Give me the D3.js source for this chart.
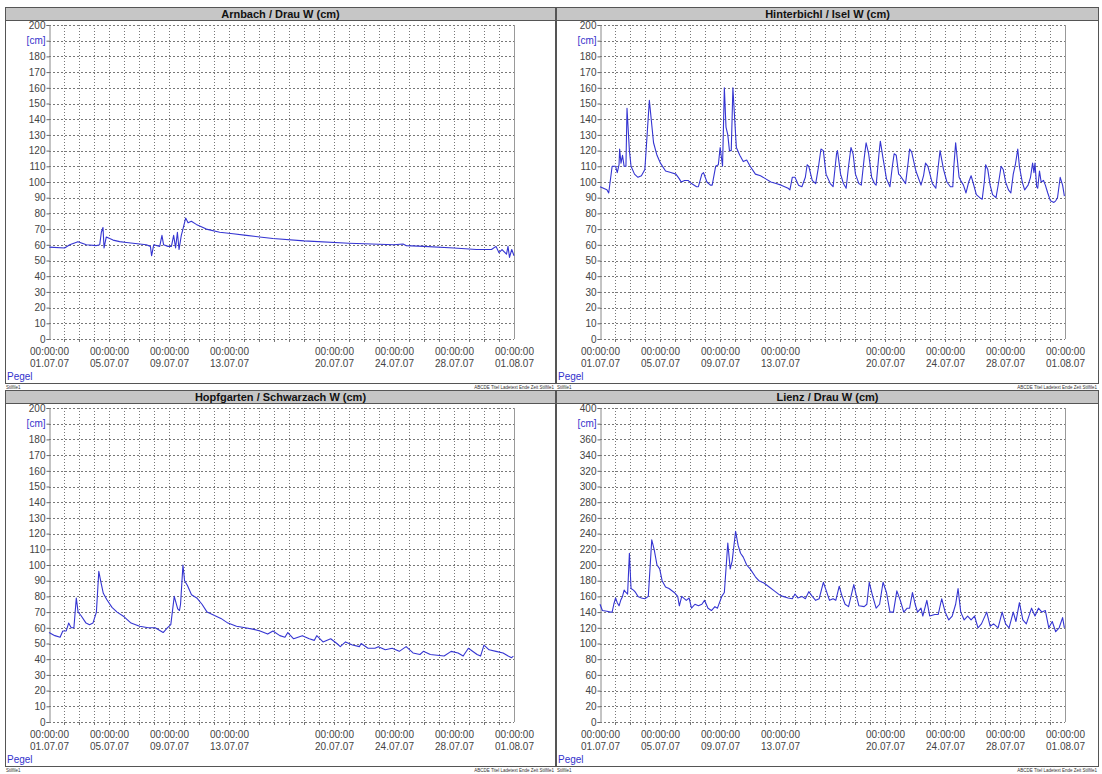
<!DOCTYPE html>
<html><head><meta charset="utf-8">
<script src="https://cdn.jsdelivr.net/npm/d3@7"></script>
<style>
body{margin:0;background:#fff;}
svg{display:block;font-family:"Liberation Sans",Arial,sans-serif;}
</style></head><body>
<svg id="c" width="1102" height="774"></svg>
<script>
// ---------- data (day offset from 01.07.07 00:00, water level in cm) ----------
const arnbachDays = [0.02,1.04,1.38,1.93,2.49,3.16,3.38,3.49,3.6,3.67,3.82,4.27,4.71,5.16,5.6,6.49,6.76,6.84,6.98,7.38,7.53,7.64,7.93,8.16,8.31,8.44,8.56,8.67,8.82,8.93,9.11,9.27,9.49,9.82,10.49,11.38,12.27,13.16,14.04,14.93,17,20,23,23.6,23.8,25,27,28.5,29.5,29.8,30.0,30.2,30.5,30.6,30.7,30.85,31];
const arnbachLevels = [58.5,58,60,62,60,59.5,60,68,71,58,65,63,62,61.5,61,60,59,53,60,59,66,60,59,59,66,58,68,57,66,70,77,74,75,73,70,68,67,66,65,64,62.5,61,60,60.5,59.5,59,58,57,57,59,55,57,54,59,52,57,53];

const hinterbichlDays = [0,0.46,0.58,0.81,1.04,1.15,1.27,1.31,1.40,1.50,1.61,1.73,1.80,1.96,2.07,2.30,2.53,2.76,2.99,3.29,3.57,3.80,4.03,4.37,4.72,5.06,5.29,5.41,5.64,5.87,6.10,6.44,6.56,6.79,6.90,7.13,7.36,7.48,7.71,7.89,8.01,8.17,8.29,8.40,8.52,8.63,8.75,8.86,8.98,9.09,9.32,9.55,9.78,10.01,10.36,10.70,11.05,11.39,11.74,12.08,12.31,12.54,12.66,12.82,13.00,13.23,13.46,13.69,13.81,13.92,14.15,14.38,14.57,14.73,14.89,15.07,15.35,15.54,15.77,15.83,16.04,16.23,16.41,16.57,16.73,16.87,17.03,17.26,17.42,17.61,17.74,17.91,18.11,18.30,18.41,18.60,18.69,18.87,19.10,19.33,19.49,19.61,19.75,19.91,20.02,20.37,20.55,20.64,20.78,21.06,21.40,21.57,21.70,21.86,22.16,22.39,22.55,22.67,22.90,23.13,23.36,23.52,23.59,23.71,23.94,24.05,24.23,24.40,24.58,24.74,24.86,25.09,25.32,25.48,25.62,25.71,25.85,26.01,26.17,26.40,26.58,26.74,26.88,27.04,27.23,27.39,27.55,27.69,27.85,27.96,28.15,28.31,28.54,28.70,28.84,28.93,29.00,29.11,29.18,29.30,29.41,29.57,29.69,29.85,30.03,30.26,30.38,30.50,30.68,30.84,30.96];
const hinterbichlLevels = [97,95,93,110,110,106,111,121,112,117,110,110,147,120,110,105,103,104,108,152,125,117,112,107,106,105,102,100,101,101,99,97,97,105,106,100,98,98,110,111,122,110,160,135,130,120,120,160,140,122,117,113,114,110,105,104,102,100,99,98,97,96,95,103,103,98,97,103,111,110,101,99,110,121,120,105,99,97,118,120,105,99,96,110,122,118,105,99,98,115,125,118,103,99,98,118,126,115,102,97,110,118,117,105,104,99,113,121,119,107,98,104,112,110,99,96,110,120,108,100,97,97,110,125,103,101,98,93,100,104,100,92,90,89,100,111,108,98,92,90,100,110,108,100,95,93,105,111,121,110,100,95,98,103,112,106,112,97,96,107,100,101,98,93,88,87,88,90,103,98,91];

const hopfgartenDays = [0,0.39,0.74,0.92,1.15,1.31,1.48,1.66,1.82,1.94,2.12,2.47,2.70,2.93,3.16,3.32,3.44,3.62,3.85,4.20,4.54,5.01,5.47,6.04,6.62,7.08,7.61,7.89,8.12,8.35,8.58,8.70,8.77,8.93,9.04,9.23,9.50,9.85,10.20,10.54,11.00,11.46,11.93,12.50,13.08,13.66,14.07,14.58,14.93,15.39,15.73,15.92,16.31,16.89,17.35,17.69,17.85,18.27,18.78,19.19,19.42,19.77,20.23,20.69,20.81,21.27,21.73,21.96,22.42,22.88,23.35,23.81,24.27,24.73,24.96,25.42,26.34,26.81,27.27,27.61,27.96,28.54,28.77,29.00,29.34,29.80,30.27,30.61,30.84,30.96];
const hopfgartenLevels = [57,55,54,58,58,63,60,60,79,70,68,63,62,63,70,96,90,82,78,73,70,67,63,61,60,60,57,60,62,80,72,71,75,100,90,87,81,79,75,70,68,66,63,61,60,59,58,56,58,55,54,57,53,55,53,52,55,51,53,50,48,51,49,48,50,47,47,48,46,47,45,48,44,43,45,43,42,45,44,42,47,43,42,49,46,45,44,42,41,42];

const lienzDays = [0,0.16,0.46,0.69,0.81,0.92,1.04,1.15,1.27,1.38,1.50,1.61,1.73,1.84,1.96,2.07,2.23,2.37,2.53,2.76,2.99,3.22,3.45,3.61,3.80,3.98,4.14,4.37,4.60,4.95,5.18,5.29,5.45,5.75,5.94,6.10,6.33,6.56,6.79,6.97,7.20,7.43,7.66,7.83,8.12,8.29,8.52,8.68,8.81,9.04,9.21,9.37,9.55,9.78,10.01,10.36,10.59,10.93,11.28,11.62,11.97,12.20,12.54,12.82,13.00,13.19,13.46,13.69,13.92,14.15,14.38,14.61,14.89,15.07,15.30,15.54,15.72,15.95,16.11,16.34,16.57,16.92,17.10,17.26,17.61,17.79,17.95,18.18,18.41,18.64,18.87,19.10,19.33,19.56,19.79,20.02,20.25,20.48,20.64,20.83,21.01,21.17,21.40,21.52,21.79,21.98,22.32,22.55,22.78,23.01,23.25,23.48,23.71,23.87,24.05,24.28,24.51,24.74,24.97,25.20,25.43,25.78,26.01,26.24,26.54,26.81,27.04,27.27,27.55,27.73,27.96,28.19,28.42,28.77,29.00,29.23,29.46,29.69,29.92,30.15,30.38,30.61,30.84,30.96];
const lienzLevels = [150,142,141,140,140,150,158,152,148,155,160,168,165,163,215,170,168,165,160,158,157,160,232,220,200,195,180,172,170,165,160,148,160,155,158,145,150,148,150,155,145,142,147,145,160,165,228,195,205,243,225,215,210,200,195,185,180,177,172,167,162,160,158,157,163,158,160,157,166,160,155,157,178,168,155,157,155,173,162,150,147,175,160,148,147,150,178,160,145,150,178,165,140,140,167,155,140,145,145,165,150,140,145,135,155,135,137,137,157,140,130,135,150,170,140,130,135,130,135,120,125,140,122,125,120,140,125,120,140,128,152,130,125,145,135,145,140,142,120,128,115,120,133,120];

const stationTitles = ["Arnbach / Drau W (cm)","Hinterbichl / Isel W (cm)","Hopfgarten / Schwarzach W (cm)","Lienz / Drau W (cm)"];
const yMaxima = [200,200,200,400];
const yStepSizes = [10,10,10,20];
const tickDates = ["01.07.07","05.07.07","09.07.07","13.07.07","20.07.07","24.07.07","28.07.07","01.08.07"];
const tickTimeText = "00:00:00";
const unitText = "[cm]";
const seriesLabel = "Pegel";
const footerLeft = "Stilfile1";
const footerRight = "ABCDE Titel Ladetext Ende Zeit Stilfile1";

// ---------- drawing ----------
const svg = d3.select("#c");
const parseDate = d3.timeParse("%d.%m.%y");
const t0 = new Date(2007,6,1), t1 = new Date(2007,7,1);
const dayToDate = d => new Date(t0.getTime() + d*86400000);

const panels = [
  {x:5,  y:7,   w:551, days:arnbachDays,     vals:arnbachLevels},
  {x:556,y:7,   w:543, days:hinterbichlDays, vals:hinterbichlLevels},
  {x:5,  y:390, w:551, days:hopfgartenDays,  vals:hopfgartenLevels},
  {x:556,y:390, w:543, days:lienzDays,       vals:lienzLevels}
];

panels.forEach((p,i)=>{
  const g = svg.append("g").attr("transform",`translate(${p.x},${p.y})`);
  const H = 376;
  // panel frame
  g.append("rect").attr("x",0.5).attr("y",0.5).attr("width",p.w-1).attr("height",H)
    .attr("fill","#fff").attr("stroke","#555");
  g.append("rect").attr("x",0.5).attr("y",0.5).attr("width",p.w-1).attr("height",13)
    .attr("fill","#c6c6c6").attr("stroke","#555");
  g.append("text").attr("x",p.w/2+ (i%2?0:0)).attr("y",11).attr("text-anchor","middle")
    .attr("font-size",11).attr("font-weight","bold").attr("fill","#111").text(stationTitles[i]);

  const left = 44, right = left+465, top = 18, bottom = top+314;
  const x = d3.scaleTime().domain([t0,t1]).range([left,right]);
  const y = d3.scaleLinear().domain([0,yMaxima[i]]).range([bottom,top]);

  // grid
  const days = d3.timeDay.range(t0, d3.timeDay.offset(t1,1));
  g.append("g").selectAll("line").data(days.slice(1,-1)).join("line")
    .attr("x1",d=>Math.round(x(d))+0.5).attr("x2",d=>Math.round(x(d))+0.5)
    .attr("y1",top).attr("y2",bottom)
    .attr("stroke","#777").attr("stroke-width",1).attr("stroke-dasharray","1,2");
  const yTicks = d3.range(0, yMaxima[i]+1, yStepSizes[i]);
  g.append("g").selectAll("line").data(yTicks).join("line")
    .attr("x1",left).attr("x2",right)
    .attr("y1",d=>Math.round(y(d))+0.5).attr("y2",d=>Math.round(y(d))+0.5)
    .attr("stroke","#777").attr("stroke-width",1).attr("stroke-dasharray","2,2");
  // plot right border
  g.append("line").attr("x1",right+0.5).attr("x2",right+0.5).attr("y1",top).attr("y2",bottom)
    .attr("stroke","#999");

  // y axis
  const yAxis = d3.axisLeft(y).tickValues(yTicks).tickSize(3).tickPadding(1)
    .tickFormat((d,k)=> d===yMaxima[i]-yStepSizes[i] ? unitText : d);
  const ya = g.append("g").attr("transform",`translate(${left+0.5},0)`).call(yAxis);
  ya.select(".domain").attr("stroke","#888");
  ya.selectAll(".tick line").attr("stroke","#666");
  ya.selectAll(".tick text").attr("font-size",10).attr("fill","#444")
    .attr("font-family","Liberation Sans, Arial, sans-serif")
    .filter(d=> d===yMaxima[i]-yStepSizes[i]).attr("fill","#3333cc");

  // x axis
  const xAxis = d3.axisBottom(x).tickValues(tickDates.map(parseDate)).tickSize(0).tickPadding(0).tickFormat("");
  const xa = g.append("g").attr("transform",`translate(0,${bottom})`).call(xAxis);
  xa.select(".domain").remove();
  xa.selectAll(".tick").each(function(d,k){
    const t = d3.select(this);
    t.append("text").attr("y",16).attr("text-anchor","middle").attr("font-size",10).attr("fill","#444").text(tickTimeText);
    t.append("text").attr("y",28).attr("text-anchor","middle").attr("font-size",10).attr("fill","#444").text(tickDates[k]);
  });
  g.append("g").selectAll("line").data(days.slice(1,-1)).join("line")
    .attr("x1",d=>Math.round(x(d))+0.5).attr("x2",d=>Math.round(x(d))+0.5)
    .attr("y1",bottom).attr("y2",bottom+3).attr("stroke","#777");

  g.append("text").attr("x",2).attr("y",bottom+41).attr("font-size",10).attr("fill","#3333cc").text(seriesLabel);

  // footer
  g.append("text").attr("x",1).attr("y",H+6).attr("font-size",4.5).attr("fill","#333").text(footerLeft);
  g.append("text").attr("x",p.w-2).attr("y",H+6).attr("text-anchor","end").attr("font-size",4.5).attr("fill","#333").text(footerRight);

  // series
  const pts = p.days.map((d,k)=>[dayToDate(d), p.vals[k]]);
  const line = d3.line().x(d=>x(d[0])).y(d=>y(d[1]));
  g.append("path").datum(pts).attr("d",line).attr("fill","none")
    .attr("stroke","#3535d2").attr("stroke-width",1.1).attr("stroke-linejoin","round");
});
</script>
</body></html>
